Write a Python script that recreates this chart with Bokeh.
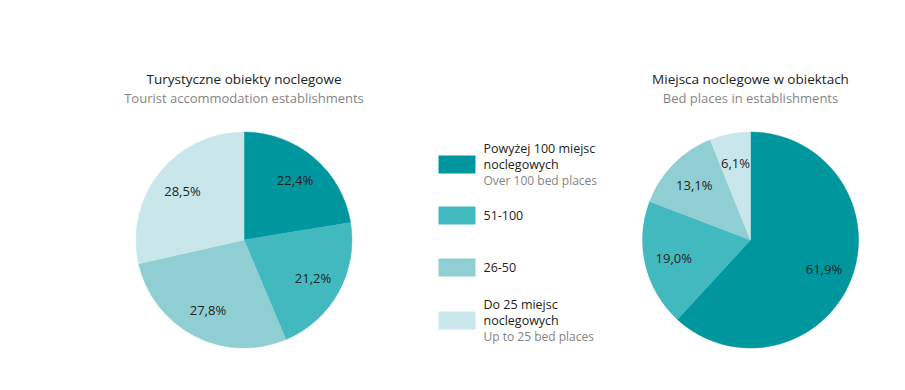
import math
from bokeh.plotting import figure
from bokeh.models import Range1d, ColumnDataSource
from bokeh.core.properties import value
from bokeh.embed import file_html
from bokeh.resources import INLINE

# ---- data ----
categories_pl = ["Powyżej 100 miejsc\nnoclegowych", "51-100", "26-50", "Do 25 miejsc\nnoclegowych"]
categories_en = ["Over 100 bed places", "", "", "Up to 25 bed places"]
establishments = [22.4, 21.2, 27.8, 28.5]
bed_places = [61.9, 19.0, 13.1, 6.1]
titles_pl = ["Turystyczne obiekty noclegowe", "Miejsca noclegowe w obiektach"]
titles_en = ["Tourist accommodation establishments", "Bed places in establishments"]
colors = ["#00969e", "#42b9bf", "#8fcfd4", "#c9e7ea"]

FONT = "Open Sans"
W, H = 889, 374

p = figure(width=W, height=H, output_backend="svg", toolbar_location=None,
           x_range=Range1d(0, W), y_range=Range1d(390 - H, 390),
           x_axis_location=None, y_axis_location=None, min_border=0)
p.grid.visible = False
p.outline_line_color = None
p.background_fill_color = "white"
p.border_fill_color = "white"


def Y(y):
    return 390 - y


def pie(cx, cy, r, vals, title_pl, title_en):
    total = sum(vals)
    starts, ends, lx, ly, labels = [], [], [], [], []
    cum = 0.0
    for v in vals:
        a0 = math.pi / 2 - 2 * math.pi * cum / total
        cum += v
        a1 = math.pi / 2 - 2 * math.pi * cum / total
        starts.append(a0)
        ends.append(a1)
        mid = (a0 + a1) / 2
        lx.append(cx + 0.73 * r * math.cos(mid))
        ly.append(Y(cy) + 0.73 * r * math.sin(mid))
        labels.append(f"{v:.1f}".replace(".", ",") + "%")
    src = ColumnDataSource(dict(s=starts, e=ends, c=colors[:len(vals)]))
    p.wedge(x=cx, y=Y(cy), radius=r, start_angle="s", end_angle="e",
            direction="clock", fill_color="c", line_color="c", line_width=0.5, source=src)
    p.text(x=lx, y=ly, text=labels, text_align="center", text_baseline="middle",
           text_font=value(FONT), text_font_size="13px", text_color="#222222")
    p.text(x=[cx], y=[Y(78)], text=[title_pl], text_align="center", text_baseline="middle",
           text_font=value(FONT), text_font_size="13.5px", text_color="#222222")
    p.text(x=[cx], y=[Y(97)], text=[title_en], text_align="center", text_baseline="middle",
           text_font=value(FONT), text_font_size="13px", text_color="#858585")


pie(243.5, 239.5, 108, establishments, titles_pl[0], titles_en[0])
pie(750, 239.5, 108, bed_places, titles_pl[1], titles_en[1])

# ---- legend ----
sw_y = [164, 215, 267, 320]
p.rect(x=[456.5] * 4, y=[Y(v) for v in sw_y], width=37, height=18,
       fill_color=colors, line_color=None)
line_h = 16
for i, (pl, en) in enumerate(zip(categories_pl, categories_en)):
    lines = pl.split("\n")
    n = len(lines) + (1 if en else 0)
    top = sw_y[i] - (n - 1) * line_h / 2
    for j, t in enumerate(lines):
        p.text(x=[483], y=[Y(top + j * line_h)], text=[t], text_align="left",
               text_baseline="middle", text_font=value(FONT), text_font_size="12.5px",
               text_color="#222222")
    if en:
        p.text(x=[483], y=[Y(top + len(lines) * line_h)], text=[en], text_align="left",
               text_baseline="middle", text_font=value(FONT), text_font_size="12px",
               text_color="#858585")

open("out.html", "w").write(file_html(p, INLINE))
